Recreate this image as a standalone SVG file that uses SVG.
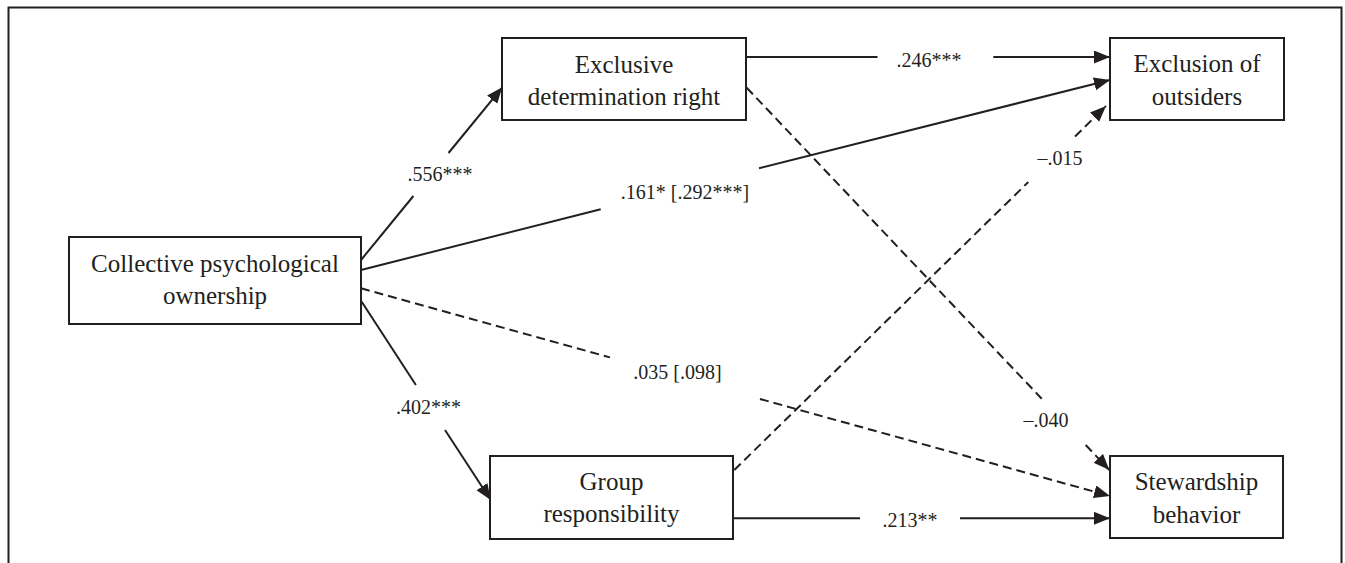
<svg xmlns="http://www.w3.org/2000/svg" width="1345" height="563" viewBox="0 0 1345 563">
<style>
.box{fill:#fff;stroke:#231f20;stroke-width:2}
.nt{font-family:"Liberation Serif","Times New Roman",serif;font-size:25px;fill:#231f20;text-anchor:middle}
.lb{font-family:"Liberation Serif","Times New Roman",serif;font-size:20px;fill:#231f20;text-anchor:middle}
.ln{fill:none;stroke:#231f20;stroke-width:2}
.dash{stroke-dasharray:9 5}
.frame{fill:none;stroke:#231f20;stroke-width:2}
</style>
<defs>
<marker id="arr" markerUnits="userSpaceOnUse" markerWidth="17" markerHeight="14" refX="16" refY="6.5" orient="auto">
<path d="M0,0 L16,6.5 L0,13 z" fill="#231f20" stroke="none"/>
</marker>
</defs>
<rect width="1345" height="563" fill="#fff"/>
<path class="frame" d="M8.5,563 V7.5 H1341.5 V563"/>
<g id="connectors">
<path class="ln" d="M361,260 L413.4,196"/>
<path class="ln" d="M448.5,153 L502.3,87.3" marker-end="url(#arr)"/>
<path class="ln" d="M361,270 L600.7,209.2"/>
<path class="ln" d="M759,168.3 L1110,80" marker-end="url(#arr)"/>
<path class="ln dash" d="M361,288.3 L610,357.4"/>
<path class="ln dash" d="M760,399 L1110,496" marker-end="url(#arr)"/>
<path class="ln" d="M361.7,301.7 L415.9,385"/>
<path class="ln" d="M445,430 L490.7,500" marker-end="url(#arr)"/>
<path class="ln" d="M746,57 L877.5,57"/>
<path class="ln" d="M993.3,57 L1110,57" marker-end="url(#arr)"/>
<path class="ln dash" d="M746.7,87.7 L1041.7,398.7"/>
<path class="ln dash" d="M1085.7,445 L1109.3,470" marker-end="url(#arr)"/>
<path class="ln dash" d="M734.3,470 L1028.3,182"/>
<path class="ln dash" d="M1075,136.5 L1106,106" marker-end="url(#arr)"/>
<path class="ln" d="M733,518.3 L860,518.3"/>
<path class="ln" d="M960,518.3 L1110,518.3" marker-end="url(#arr)"/>
<text class="lb" x="440" y="181">.556***</text>
<text class="lb" x="685" y="199">.161* [.292***]</text>
<text class="lb" x="677.5" y="379">.035 [.098]</text>
<text class="lb" x="428.5" y="414">.402***</text>
<text class="lb" x="929" y="66.5">.246***</text>
<text class="lb" x="910" y="527">.213**</text>
<text class="lb" x="1060" y="165">–.015</text>
<text class="lb" x="1046" y="427">–.040</text>
</g>
<g id="n_cpo">
<rect class="box" x="69" y="237" width="292" height="87"/>
<text class="nt" x="215" y="272">Collective psychological</text>
<text class="nt" x="215" y="304">ownership</text>
</g>
<g id="n_edr">
<rect class="box" x="502" y="38" width="244" height="82"/>
<text class="nt" x="624" y="72.5">Exclusive</text>
<text class="nt" x="624" y="104.5">determination right</text>
</g>
<g id="n_eoo">
<rect class="box" x="1110" y="38" width="174" height="82"/>
<text class="nt" x="1197" y="72">Exclusion of</text>
<text class="nt" x="1197" y="105">outsiders</text>
</g>
<g id="n_gr">
<rect class="box" x="490" y="456" width="243" height="83"/>
<text class="nt" x="611.5" y="489.5">Group</text>
<text class="nt" x="611.5" y="522">responsibility</text>
</g>
<g id="n_sb">
<rect class="box" x="1110" y="456" width="173" height="82"/>
<text class="nt" x="1196.5" y="489.5">Stewardship</text>
<text class="nt" x="1196.5" y="522.5">behavior</text>
</g>
</svg>
